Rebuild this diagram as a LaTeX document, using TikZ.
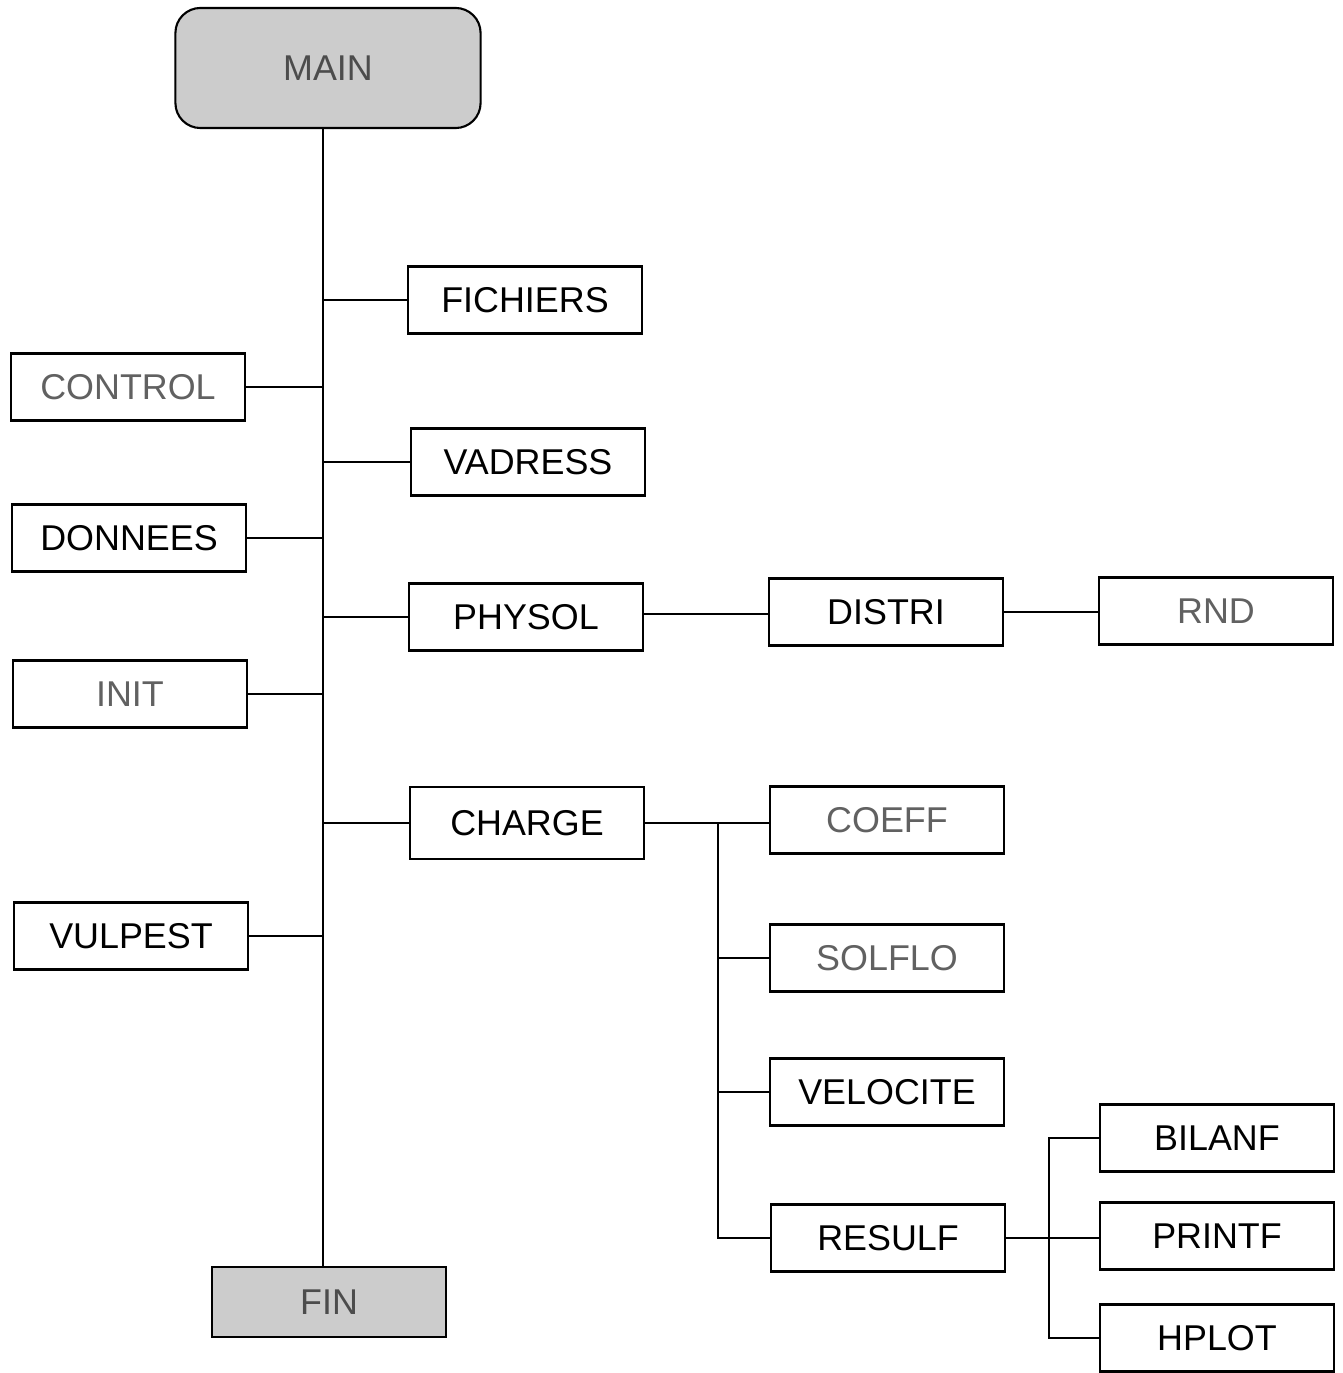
\documentclass[tikz,border=0pt]{standalone}
\usepackage{fontspec}
\setmainfont{Liberation Sans}
\usetikzlibrary{positioning}
\definecolor{dimtext}{gray}{0.38}
\definecolor{endtext}{gray}{0.30}
\definecolor{shade}{gray}{0.80}

\begin{document}
\begin{tikzpicture}[x=0.01cm,y=-0.01cm,line width=0.6pt,
    font=\fontsize{10.2}{12}\selectfont,
    sub/.style={draw,minimum width=2.34cm,minimum height=0.67cm,inner sep=0pt},
    dim/.style={sub,text=dimtext},
    ends/.style={sub,fill=shade,text=endtext}]
  \useasboundingbox (0,0) rectangle (1342,1373);
  % tronc principal
  \node[ends,rounded corners=0.25cm,minimum width=3.05cm,minimum height=1.2cm] (main) at (328,68) {MAIN};
  \node[ends,minimum height=0.7cm] (fin)      at (329,1302) {FIN};
  \node[sub]  (fichiers) at (525,300)  {FICHIERS};
  \node[dim]  (control)  at (128,387)  {CONTROL};
  \node[sub]  (vadress)  at (528,462)  {VADRESS};
  \node[sub]  (donnees)  at (129,538)  {DONNEES};
  \node[sub]  (physol)   at (526,617)  {PHYSOL};
  \node[dim]  (init)     at (130,694)  {INIT};
  \node[sub,minimum height=0.72cm] (charge) at (527,823) {CHARGE};
  \node[sub]  (vulpest)  at (131,936)  {VULPEST};
  % PHYSOL
  \node[sub]  (distri)   at (886,612)  {DISTRI};
  \node[dim]  (rnd)      at (1216,611) {RND};
  % CHARGE
  \node[dim]  (coeff)    at (887,820)  {COEFF};
  \node[dim]  (solflo)   at (887,958)  {SOLFLO};
  \node[sub]  (velocite) at (887,1092) {VELOCITE};
  \node[sub]  (resulf)   at (888,1238) {RESULF};
  % RESULF
  \node[sub]  (bilanf)   at (1217,1138) {BILANF};
  \node[sub]  (printf)   at (1217,1236) {PRINTF};
  \node[sub]  (hplot)    at (1217,1338) {HPLOT};

  \coordinate (trunk) at (323,0);
  \coordinate (cbus)  at (718,823);
  \coordinate (rbus)  at (1049,1238);

  \draw (main.south -| trunk) -- (fin.north -| trunk);
  \foreach \n in {fichiers,vadress,physol,charge}
    \draw (\n.west) -- (\n.west -| trunk);
  \foreach \n in {control,donnees,init,vulpest}
    \draw (\n.east) -- (\n.east -| trunk);

  \draw (distri.west |- 0,614) -- (physol.east |- 0,614);
  \draw (distri.east) -- (distri.east -| rnd.west);

  \draw (charge.east) -- (charge.east -| coeff.west);
  \draw (cbus) |- (resulf.west);
  \foreach \n in {solflo,velocite}
    \draw (\n.west -| cbus) -- (\n.west);

  \draw (resulf.east) -- (resulf.east -| printf.west);
  \draw (bilanf.west) -| (rbus) |- (hplot.west);
\end{tikzpicture}
\end{document}
